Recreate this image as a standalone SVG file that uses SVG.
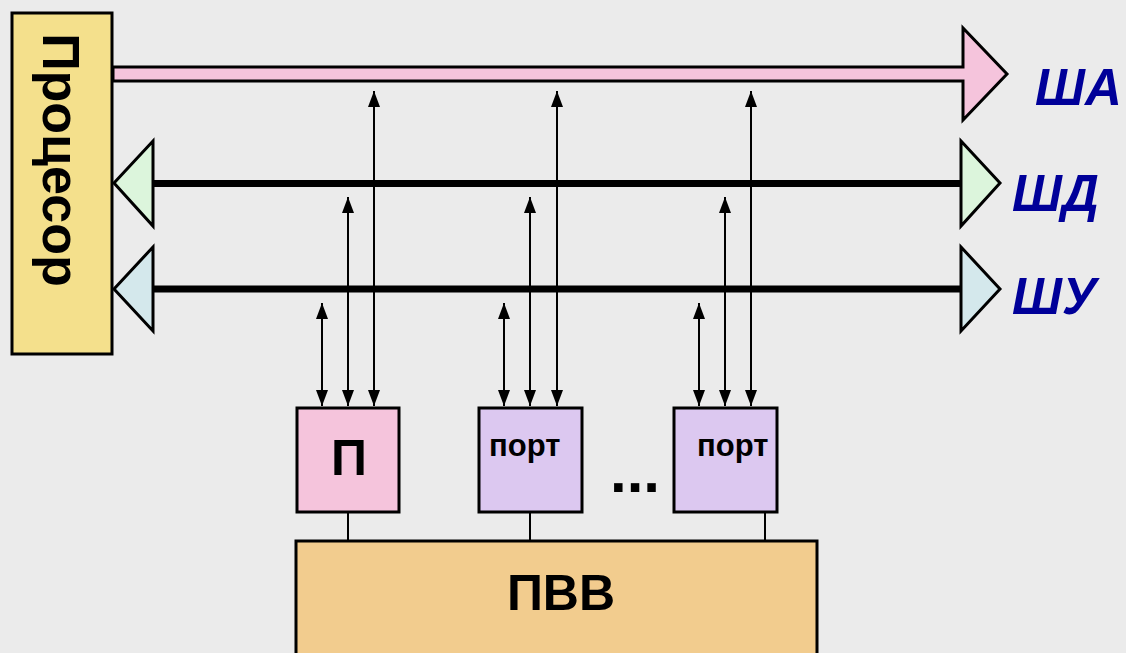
<svg xmlns="http://www.w3.org/2000/svg" width="1126" height="653" viewBox="0 0 1126 653">
  <defs>
    <marker id="ah" markerUnits="userSpaceOnUse" markerWidth="16" markerHeight="12" refX="16" refY="6" orient="auto-start-reverse" viewBox="0 0 16 12">
      <path d="M0,0 L16,6 L0,12 z" fill="#000"/>
    </marker>
  </defs>
  <style>
    .box { stroke: #000; stroke-width: 3; }
    .bus { stroke: #000; stroke-width: 3; stroke-linejoin: miter; }
    .thick { stroke: #000; stroke-width: 7; }
    .wire { stroke: #000; stroke-width: 2; fill: none; }
    .arr { stroke: #000; stroke-width: 2; fill: none; marker-start: url(#ah); marker-end: url(#ah); }
    .lbl { font-family: "Liberation Sans", Arial, sans-serif; font-weight: bold; fill: #000; }
    .bl { font-family: "Liberation Sans", Arial, sans-serif; font-weight: bold; font-style: italic; fill: #000099; font-size: 51px; }
  </style>
  <rect x="0" y="0" width="1126" height="653" fill="#ebebeb"/>

  <g id="connectors">
    <!-- address bus -->
    <path class="bus" fill="#f5c4dc" d="M113,67 L963,67 L963,28 L1007,74 L963,120 L963,81 L113,81 Z"/>
    <!-- data bus -->
    <line class="thick" x1="150" y1="183.5" x2="964" y2="183.5"/>
    <path class="bus" fill="#dcf5dc" d="M114,183 L153,141 L153,226 Z"/>
    <path class="bus" fill="#dcf5dc" d="M961,141 L1000,183 L961,226 Z"/>
    <!-- control bus -->
    <line class="thick" x1="150" y1="289" x2="964" y2="289"/>
    <path class="bus" fill="#d4e8ec" d="M114,289 L153,247 L153,331 Z"/>
    <path class="bus" fill="#d4e8ec" d="M961,247 L1000,289 L961,331 Z"/>
    <!-- vertical double arrows -->
    <line class="arr" x1="322" y1="303" x2="322" y2="406"/>
    <line class="arr" x1="348" y1="197" x2="348" y2="406"/>
    <line class="arr" x1="374" y1="91" x2="374" y2="406"/>
    <line class="arr" x1="504" y1="303" x2="504" y2="406"/>
    <line class="arr" x1="530" y1="197" x2="530" y2="406"/>
    <line class="arr" x1="557" y1="91" x2="557" y2="406"/>
    <line class="arr" x1="699" y1="303" x2="699" y2="406"/>
    <line class="arr" x1="725" y1="197" x2="725" y2="406"/>
    <line class="arr" x1="751" y1="91" x2="751" y2="406"/>
    <!-- box to ПВВ -->
    <line class="wire" x1="348" y1="513" x2="348" y2="541"/>
    <line class="wire" x1="530" y1="513" x2="530" y2="541"/>
    <line class="wire" x1="765" y1="513" x2="765" y2="541"/>
  </g>

  <g id="processor">
    <rect class="box" x="12" y="13" width="100" height="341" fill="#f4e08c"/>
    <text class="lbl" font-size="52" text-anchor="middle" transform="translate(43,160) rotate(90)">Процесор</text>
  </g>

  <g id="label-SHA"><text class="bl" x="1035" y="105">ША</text></g>
  <g id="label-SHD"><text class="bl" x="1012" y="211">ШД</text></g>
  <g id="label-SHU"><text class="bl" x="1012" y="314">ШУ</text></g>

  <g id="port-p">
    <rect class="box" x="297" y="408" width="102" height="104" fill="#f5c4dc"/>
    <text class="lbl" font-size="50" text-anchor="middle" x="349" y="475">П</text>
  </g>
  <g id="port-1">
    <rect class="box" x="479" y="408" width="103" height="104" fill="#dcc8f0"/>
    <text class="lbl" font-size="31" x="489" y="456">порт</text>
  </g>
  <g id="ellipsis">
    <text class="lbl" font-size="60" x="610" y="492">...</text>
  </g>
  <g id="port-2">
    <rect class="box" x="674" y="408" width="103" height="104" fill="#dcc8f0"/>
    <text class="lbl" font-size="31" x="697" y="456">порт</text>
  </g>
  <g id="pvv">
    <rect class="box" x="296" y="541" width="521" height="130" fill="#f2cc8e"/>
    <text class="lbl" font-size="50" text-anchor="middle" x="561" y="610">ПВВ</text>
  </g>
</svg>
